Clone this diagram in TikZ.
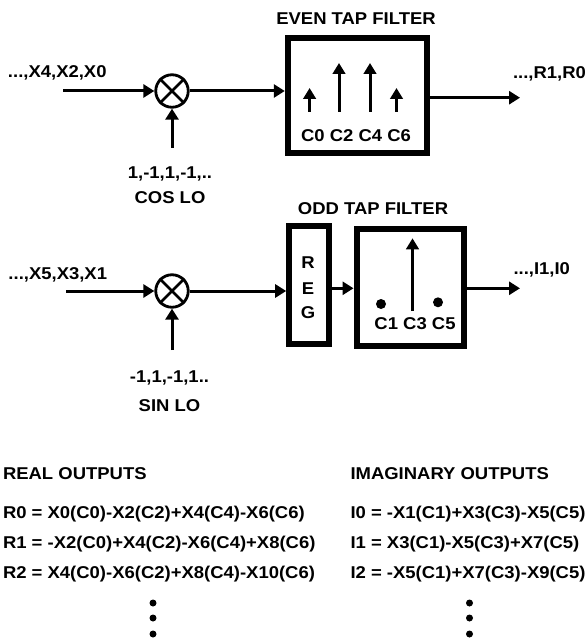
\documentclass[tikz,border=0pt]{standalone}
\usepackage{fontspec}
\setmainfont[FakeStretch=1.08]{Liberation Sans}
\usetikzlibrary{arrows.meta}
\tikzset{
  lbl/.style={font=\fontsize{17.1}{19}\selectfont\bfseries,inner sep=0pt,outer sep=0pt},
  lbll/.style={lbl,anchor=west},
  wire/.style={line width=3pt,-{Triangle[length=11pt,width=13pt]}},
  stem/.style={line width=3pt,-{Triangle[length=11pt,width=12.5pt]}},
  thick box/.style={draw,line width=6pt,inner sep=0pt},
  mixer/.style={draw,circle,line width=2.8pt,minimum size=32.5pt,inner sep=0pt},
  dotm/.style={circle,fill=black,inner sep=0pt},
}
\begin{document}
\begin{tikzpicture}[x=1pt,y=-1pt]
\useasboundingbox (0,0) rectangle (587,639);
% ---- upper branch
\node[lbl] (even) at (356,19) {EVEN TAP FILTER};
\node[thick box,minimum width=139.6pt,minimum height=115.4pt] (ebox) at (357.6,95.4) {};
\node[mixer] (m1) at (172,91) {};
\draw[line width=2.8pt] (m1.45)--(m1.225) (m1.135)--(m1.315);
\node[lbll] (x0) at (8,73) {...,X4,X2,X0};
\node[lbll] (r0) at (513,74) {...,R1,R0};
\node[lbl] (cosv) at (170,174) {1,-1,1,-1,..};
\node[lbl] (cos) at (170,198) {COS LO};
\node[lbl] (ce) at (356,135.7) {C0 C2 C4 C6};
\coordinate (in1) at (63,91);
\coordinate (lo1) at (172,148);
\coordinate (out1) at (520,97.7);
\draw[wire] (in1)--(m1.west);
\draw[wire] (lo1)--(m1.south);
\draw[wire] (m1.east)--(m1.east -| ebox.west);
\draw[wire] (out1 -| ebox.east)--(out1);
\coordinate (c0b) at (309.6,111.7); \coordinate (c0t) at (309.6,88);
\coordinate (c2b) at (339,111.7);   \coordinate (c2t) at (339,63);
\coordinate (c4b) at (370,111.7);   \coordinate (c4t) at (370,63);
\coordinate (c6b) at (396.5,111.7); \coordinate (c6t) at (396.5,88);
\draw[stem] (c0b)--(c0t);
\draw[stem] (c2b)--(c2t);
\draw[stem] (c4b)--(c4t);
\draw[stem] (c6b)--(c6t);
% ---- lower branch
\node[lbl] (odd) at (373,209) {ODD TAP FILTER};
\node[thick box,minimum width=40pt,minimum height=118.4pt] (reg) at (309.2,285) {};
\node[thick box,minimum width=107.5pt,minimum height=117.5pt] (obox) at (410.3,287.3) {};
\node[mixer] (m2) at (172,291) {};
\draw[line width=2.8pt] (m2.45)--(m2.225) (m2.135)--(m2.315);
\node[lbl] (rr) at (308,263) {R};
\node[lbl] (re) at (308,288.5) {E};
\node[lbl] (rg) at (308,313) {G};
\node[lbll] (x1) at (8.5,275) {...,X5,X3,X1};
\node[lbll] (i0) at (513.5,270) {...,I1,I0};
\node[lbl] (sinv) at (169.5,377.7) {-1,1,-1,1..};
\node[lbl] (sin) at (169.5,406) {SIN LO};
\node[lbl] (co) at (415,324) {C1 C3 C5};
\coordinate (in2) at (66,291);
\coordinate (lo2) at (172,350);
\coordinate (out2) at (520,288.3);
\draw[wire] (in2)--(m2.west);
\draw[wire] (lo2)--(m2.south);
\draw[wire] (m2.east)--(m2.east -| reg.west);
\draw[wire] (reg.east |- out2)--(obox.west |- out2);
\draw[wire] (obox.east |- out2)--(out2);
\coordinate (c3b) at (412.5,311); \coordinate (c3t) at (412.5,238.3);
\draw[stem] (c3b)--(c3t);
\node[dotm,minimum size=10pt] (c1d) at (381,304) {};
\node[dotm,minimum size=10pt] (c5d) at (438,302.3) {};
% ---- equations
\node[lbll] (ro) at (3,474) {REAL OUTPUTS};
\node[lbll] (io) at (350.5,474) {IMAGINARY OUTPUTS};
\node[lbll] (e0) at (3,514) {R0 = X0(C0)-X2(C2)+X4(C4)-X6(C6)};
\node[lbll] (e1) at (3,544) {R1 = -X2(C0)+X4(C2)-X6(C4)+X8(C6)};
\node[lbll] (e2) at (3,574) {R2 = X4(C0)-X6(C2)+X8(C4)-X10(C6)};
\node[lbll] (f0) at (350.5,514) {I0 = -X1(C1)+X3(C3)-X5(C5)};
\node[lbll] (f1) at (350.5,544) {I1 = X3(C1)-X5(C3)+X7(C5)};
\node[lbll] (f2) at (350.5,574) {I2 = -X5(C1)+X7(C3)-X9(C5)};
\foreach \n/\x/\y in {a/153/603,b/153/618,c/153/634,d/469.5/603,e/469.5/618,f/469.5/634}
  \node[dotm,minimum size=7pt] (v\n) at (\x,\y) {};
\end{tikzpicture}
\end{document}
